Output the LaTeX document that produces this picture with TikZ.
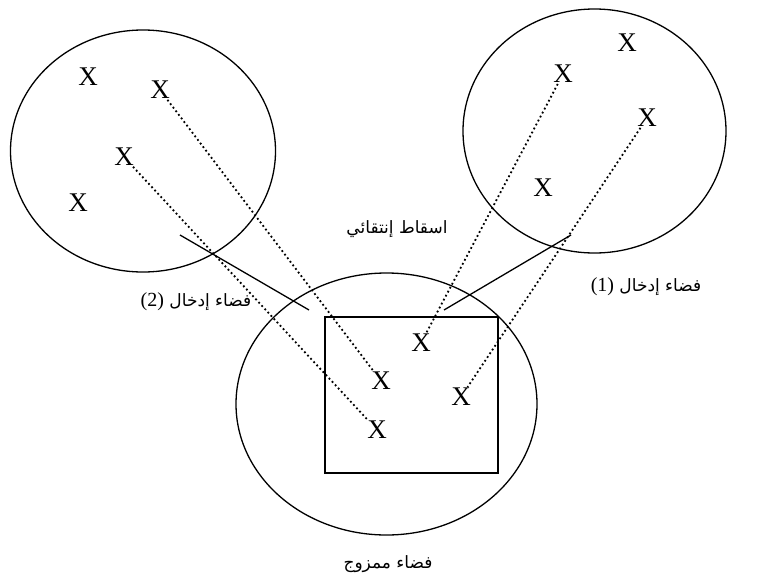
\documentclass[tikz,border=0pt]{standalone}
\usepackage{fontspec}
\setmainfont{Liberation Serif}
\newfontfamily\arabicfont[Script=Arabic]{DejaVu Sans}
\TeXXeTstate=1
\usetikzlibrary{shapes.geometric}
\begin{document}
\begin{tikzpicture}[x=1pt,y=-1pt,
  xmark/.style={inner sep=0pt, font=\fontsize{27}{27}\selectfont},
  space/.style={draw, ellipse, line width=1.3pt, inner sep=0pt},
  dotline/.style={line width=1.8pt, dash pattern=on 1.8pt off 2.7pt, shorten >=1pt, shorten <=1pt},
  solidline/.style={line width=1.3pt},
  lab/.style={font=\arabicfont\fontsize{17}{19}\selectfont, inner sep=0pt}]
\useasboundingbox (0,0) rectangle (777,584);
% spaces
\node[space, minimum width=265pt, minimum height=242pt] (in2) at (143,151) {};
\node[space, minimum width=263pt, minimum height=244pt] (in1) at (594.5,131) {};
\node[space, minimum width=301pt, minimum height=262pt] (blend) at (386.5,404) {};
\node[draw, line width=1.3pt, minimum width=173pt, minimum height=156pt, inner sep=0pt] (box) at (411.5,395) {};
% marks in input space 2
\node[xmark] (a1) at (88,77) {X};
\node[xmark] (a2) at (160,90) {X};
\node[xmark] (a3) at (124,157) {X};
\node[xmark] (a4) at (78,203) {X};
% marks in input space 1
\node[xmark] (b1) at (627,43) {X};
\node[xmark] (b2) at (563,74) {X};
\node[xmark] (b3) at (647,118) {X};
\node[xmark] (b4) at (543,188) {X};
% marks in blend
\node[xmark] (c1) at (421,343) {X};
\node[xmark] (c2) at (381,381) {X};
\node[xmark] (c3) at (461,397) {X};
\node[xmark] (c4) at (377,430) {X};
% projections
\draw[dotline] (a2) -- (c2);
\draw[dotline] (a3) -- (c4);
\draw[dotline] (b2) -- (c1);
\draw[dotline] (b3) -- (c3);
% solid connectors
\coordinate (s1) at (180,235);
\coordinate (e1) at (309,310);
\coordinate (s2) at (571,235);
\coordinate (e2) at (444,310);
\draw[solidline] (s1) -- (e1);
\draw[solidline] (s2) -- (e2);
% labels
\node[lab] (l0) at (397,229) {\beginR اسقاط إنتقائي\endR};
\node[lab] (l2) at (196,302) {\beginR فضاء إدخال \beginL\rmfamily\fontsize{20}{20}\selectfont(2)\endL\endR};
\node[lab] (l1) at (646,287) {\beginR فضاء إدخال \beginL\rmfamily\fontsize{20}{20}\selectfont(1)\endL\endR};
\node[lab] (l3) at (388,564) {\beginR فضاء ممزوج\endR};
\end{tikzpicture}
\end{document}
